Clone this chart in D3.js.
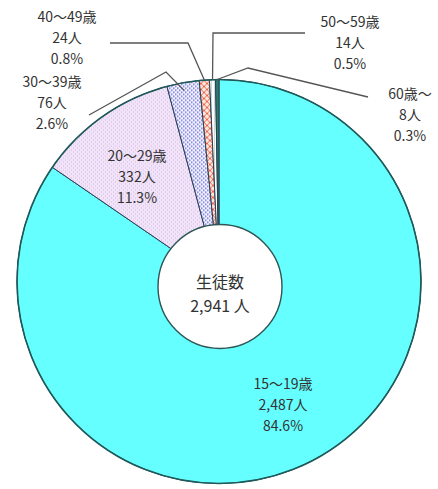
<!DOCTYPE html>
<html><head><meta charset="utf-8">
<script src="https://cdn.jsdelivr.net/npm/d3@7"></script>
<style>
html,body{margin:0;padding:0;background:#fff;}
svg{display:block;}
text{font-family:"Noto Sans CJK JP","Noto Sans",sans-serif;fill:#333;}
</style></head>
<body>
<svg id="chart" width="438" height="489"></svg>
<script>
const categories = ["15〜19歳","20〜29歳","30〜39歳","40〜49歳","50〜59歳","60歳〜"];
const counts = [2487, 332, 76, 24, 14, 8];
const countLabels = ["2,487人","332人","76人","24人","14人","8人"];
const percentLabels = ["84.6%","11.3%","2.6%","0.8%","0.5%","0.3%"];
const centerTitle = "生徒数";
const centerTotal = "2,941 人";

const W = 438, H = 489;
const cx = 219, cy = 281.5, R = 202;
const svg = d3.select("#chart");

const defs = svg.append("defs");
// 20-29: lavender with dots
const p1 = defs.append("pattern").attr("id","pLav").attr("patternUnits","userSpaceOnUse").attr("width",4).attr("height",4);
p1.append("rect").attr("width",4).attr("height",4).attr("fill","#f1e4f8");
p1.append("rect").attr("x",0).attr("y",0).attr("width",1).attr("height",1).attr("fill","#d4b4e4");
p1.append("rect").attr("x",2).attr("y",2).attr("width",1).attr("height",1).attr("fill","#d4b4e4");
// 30-39: white with blue dots
const p2 = defs.append("pattern").attr("id","pBlue").attr("patternUnits","userSpaceOnUse").attr("width",4).attr("height",4);
p2.append("rect").attr("width",4).attr("height",4).attr("fill","#f4f4ff");
p2.append("rect").attr("x",0).attr("y",0).attr("width",1.5).attr("height",1.5).attr("fill","#6a6ad8");
p2.append("rect").attr("x",2).attr("y",2).attr("width",1.5).attr("height",1.5).attr("fill","#6a6ad8");
// 40-49: pink crosshatch
const p3 = defs.append("pattern").attr("id","pCross").attr("patternUnits","userSpaceOnUse").attr("width",6).attr("height",6);
p3.append("rect").attr("width",6).attr("height",6).attr("fill","#fde4dc");
p3.append("path").attr("d","M0,0L6,6M6,0L0,6").attr("stroke","#e8684c").attr("stroke-width",1);
// 50-59: white with light vertical lines
const p4 = defs.append("pattern").attr("id","pVert").attr("patternUnits","userSpaceOnUse").attr("width",3).attr("height",3);
p4.append("rect").attr("width",3).attr("height",3).attr("fill","#ffffff");
p4.append("rect").attr("x",1).attr("width",1).attr("height",3).attr("fill","#c8dcd8");

const fills = ["#66ffff","url(#pLav)","url(#pBlue)","url(#pCross)","url(#pVert)","#2e7d6e"];

const pie = d3.pie().sort(null).value(d => d).startAngle(0).endAngle(2*Math.PI);
const arcs = pie(counts);
const arc = d3.arc().innerRadius(0).outerRadius(R);

const g = svg.append("g").attr("transform", `translate(${cx},${cy})`);
g.selectAll("path.slice").data(arcs).join("path")
  .attr("class","slice")
  .attr("d", arc)
  .attr("fill", (d,i) => fills[i])
  .attr("stroke", "#2b3f55")
  .attr("stroke-width", 1);
g.append("circle").attr("r", R).attr("fill","none").attr("stroke","#1f5a5a").attr("stroke-width",1.6);

// Center circle
g.append("circle").attr("cx",1).attr("cy",5).attr("r",62).attr("fill","#fff").attr("stroke","#2f5555").attr("stroke-width",1.4);
g.append("text").attr("x",1).attr("y",6).attr("text-anchor","middle").attr("font-size",16).text(centerTitle);
g.append("text").attr("x",1).attr("y",30).attr("text-anchor","middle").attr("font-size",16).text(centerTotal);

// Labels: anchor layout positions (absolute)
const labelPos = [[283,389],[137,161],[52,87],[67,22],[350,27],[410,99]];
const lineH = 21;
categories.forEach((c,i) => {
  const [x,y] = labelPos[i];
  const t = svg.append("text").attr("text-anchor","middle").attr("font-size",14).attr("x",x).attr("y",y);
  [c, countLabels[i], percentLabels[i]].forEach((s,k) => {
    t.append("tspan").attr("x",x).attr("y", y + k*lineH).text(s);
  });
});

// Leader lines: from label side through elbow to slice edge
function edgePoint(d, rr){
  const a = (d.startAngle + d.endAngle)/2;
  return [cx + rr*Math.sin(a), cy - rr*Math.cos(a)];
}
const leaders = [
  {i:2, pts:[[89,115],[166,72]], rr:R-8},
  {i:3, pts:[[110,43],[188,43]], rr:R},
  {i:4, pts:[[305,33],[213,33]], rr:R},
  {i:5, pts:[[368,97],[248,68]], rr:R}
];
leaders.forEach(L => {
  const pts = L.pts.concat([edgePoint(arcs[L.i], L.rr)]);
  svg.append("path").attr("d", d3.line()(pts)).attr("fill","none").attr("stroke","#555").attr("stroke-width",1.3);
});
</script>
</body></html>
